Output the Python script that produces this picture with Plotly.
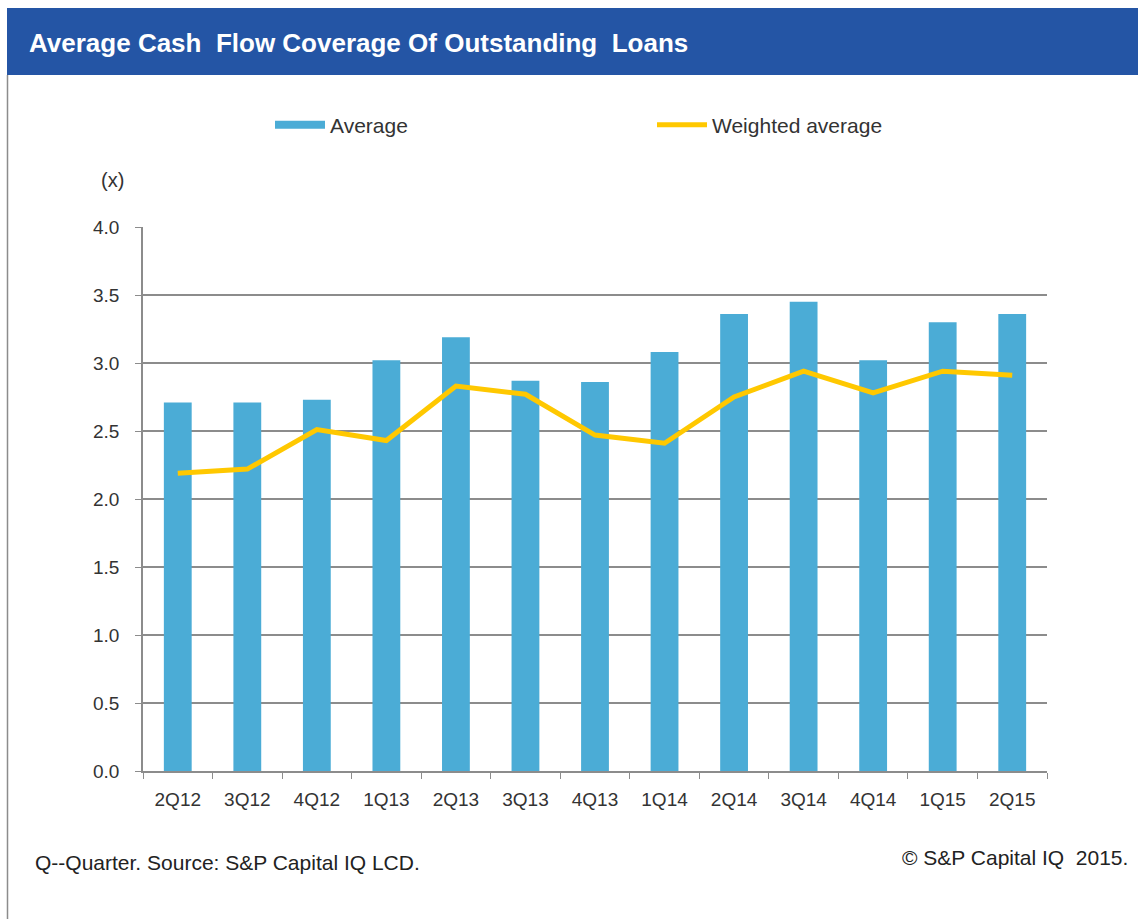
import plotly.graph_objects as go

quarters = ["2Q12", "3Q12", "4Q12", "1Q13", "2Q13", "3Q13", "4Q13",
            "1Q14", "2Q14", "3Q14", "4Q14", "1Q15", "2Q15"]
average = [2.71, 2.71, 2.73, 3.02, 3.19, 2.87, 2.86, 3.08, 3.36, 3.45, 3.02, 3.30, 3.36]
weighted_average = [2.19, 2.22, 2.51, 2.43, 2.83, 2.77, 2.47, 2.41, 2.75, 2.94, 2.78, 2.94, 2.91]
y_ticks = [0.0, 0.5, 1.0, 1.5, 2.0, 2.5, 3.0, 3.5, 4.0]

W, H = 1138, 919
L, R, T, B = 143, 1047, 227, 771

def px(x):
    return (x - L) / (R - L)

def py(y):
    return (B - y) / (B - T)

FONT = "Liberation Sans, Arial, sans-serif"
BAR_COLOR = "#4BACD6"
LINE_COLOR = "#FFC800"
AXIS_GREY = "#8c8c8c"

fig = go.Figure()
fig.add_trace(go.Bar(x=quarters, y=average, name="Average", legendgroup="avg", showlegend=False,
                     marker=dict(color=BAR_COLOR, line=dict(width=0))))
# legend entry for the bars drawn as a wide band, as in the original legend
fig.add_trace(go.Scatter(x=[None], y=[None], name="Average", legendgroup="avg", mode="lines",
                         line=dict(color=BAR_COLOR, width=8), hoverinfo="skip"))
fig.add_trace(go.Scatter(x=quarters, y=weighted_average, name="Weighted average",
                         mode="lines", line=dict(color=LINE_COLOR, width=5)))

fig.update_layout(
    width=W, height=H,
    margin=dict(l=L, r=W - R, t=T, b=H - B),
    paper_bgcolor="white", plot_bgcolor="white",
    font=dict(family=FONT, size=19, color="#333333"),
    bargap=0.6,
    showlegend=True,
    legend=dict(orientation="h", x=px(270), y=py(125), xanchor="left", yanchor="middle",
                entrywidth=317, entrywidthmode="pixels", itemwidth=50,
                font=dict(size=21, color="#333333"), bgcolor="rgba(0,0,0,0)"),
    xaxis=dict(type="category", showgrid=False, showline=True, linecolor=AXIS_GREY, linewidth=1.5,
               ticks="outside", tickson="boundaries", ticklen=6, tickcolor=AXIS_GREY,
               ticklabelstandoff=10,
               tickfont=dict(size=19, color="#333333")),
    yaxis=dict(range=[0, 4.0], tickvals=y_ticks, ticktext=[f"{v:.1f}" for v in y_ticks],
               showgrid=True, gridcolor=AXIS_GREY, gridwidth=1.5,
               showline=True, linecolor=AXIS_GREY, linewidth=1.5,
               ticks="outside", ticklen=6, tickcolor=AXIS_GREY, ticklabelstandoff=12,
               tickfont=dict(size=19, color="#333333"), zeroline=False),
    shapes=[
        dict(type="rect", xref="paper", yref="paper", x0=px(7), x1=px(1138), y0=py(75), y1=py(8),
             fillcolor="#2455A5", line=dict(width=0), layer="above"),
        dict(type="line", xref="paper", yref="paper", x0=px(7.5), x1=px(7.5), y0=py(919), y1=py(75),
             line=dict(color=AXIS_GREY, width=1.5)),
    ],
    annotations=[
        dict(text="Average Cash\u00a0 Flow Coverage Of Outstanding\u00a0 Loans", xref="paper", yref="paper",
             x=px(27), y=py(43), xanchor="left", yanchor="middle", showarrow=False,
             font=dict(family=FONT, size=26, color="white", weight="bold")),
        dict(text="(x)", xref="paper", yref="paper", x=px(112), y=py(180),
             xanchor="center", yanchor="middle", showarrow=False,
             font=dict(size=20, color="#333333")),
        dict(text="Q--Quarter. Source: S&P Capital IQ LCD.", xref="paper", yref="paper",
             x=px(33), y=py(862), xanchor="left", yanchor="middle", showarrow=False,
             font=dict(size=21, color="#222222")),
        dict(text="© S&P Capital IQ\u00a0 2015.", xref="paper", yref="paper",
             x=px(1130), y=py(857), xanchor="right", yanchor="middle", showarrow=False,
             font=dict(size=21, color="#222222")),
    ],
)

fig.write_html("out.html")
